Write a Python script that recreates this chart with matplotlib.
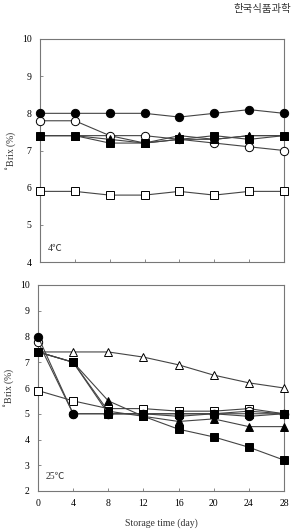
import matplotlib.pyplot as plt

days = [0, 4, 8, 12, 16, 20, 24, 28]

# 4 C panel
cold_filled_circle = [8.0, 8.0, 8.0, 8.0, 7.9, 8.0, 8.1, 8.0]
cold_open_circle = [7.8, 7.8, 7.4, 7.4, 7.3, 7.2, 7.1, 7.0]
cold_open_triangle = [7.4, 7.4, 7.4, 7.2, 7.3, 7.3, 7.4, 7.4]
cold_filled_triangle = [7.4, 7.4, 7.3, 7.2, 7.4, 7.3, 7.4, 7.4]
cold_filled_square = [7.4, 7.4, 7.2, 7.2, 7.3, 7.4, 7.3, 7.4]
cold_open_square = [5.9, 5.9, 5.8, 5.8, 5.9, 5.8, 5.9, 5.9]

# 25 C panel
warm_open_triangle = [7.4, 7.4, 7.4, 7.2, 6.9, 6.5, 6.2, 6.0]
warm_filled_circle = [8.0, 5.0, 5.0, 5.0, 4.9, 5.0, 4.9, 5.0]
warm_open_circle = [7.8, 5.0, 5.0, 5.0, 5.0, 5.0, 5.1, 5.0]
warm_open_square = [5.9, 5.5, 5.2, 5.2, 5.1, 5.1, 5.2, 5.0]
warm_filled_square_a = [7.4, 7.0, 5.0, 5.0, 5.0, 5.0, 5.0, 5.0]
warm_filled_triangle = [7.4, 7.0, 5.5, 4.9, 4.7, 4.8, 4.5, 4.5]
warm_filled_square_b = [7.4, 7.0, 5.1, 4.9, 4.4, 4.1, 3.7, 3.2]

plt.rcParams['font.family'] = ['Liberation Serif', 'Noto Sans CJK KR']
plt.rcParams['font.size'] = 7

fig = plt.figure(figsize=(2.92, 5.29), dpi=100)
ax1 = fig.add_axes([40 / 292, 1 - 262 / 529, 244 / 292, 223 / 529])
ax2 = fig.add_axes([38 / 292, 1 - 491 / 529, 246 / 292, 206 / 529])

fig.text(291 / 292, 1 - 12 / 529, '한국식품과학', fontsize=7.5, color='#333333',
         ha='right', family=['Noto Sans CJK KR'])


def draw(ax, y, marker, filled):
    ax.plot(days, y, color='#444444', lw=0.8, marker=marker, ms=6,
            mfc='black' if filled else 'white', mec='black', mew=0.7,
            clip_on=False, zorder=3)


draw(ax1, cold_open_square, 's', False)
draw(ax1, cold_open_triangle, '^', False)
draw(ax1, cold_open_circle, 'o', False)
draw(ax1, cold_filled_triangle, '^', True)
draw(ax1, cold_filled_square, 's', True)
draw(ax1, cold_filled_circle, 'o', True)

draw(ax2, warm_open_triangle, '^', False)
draw(ax2, warm_open_square, 's', False)
draw(ax2, warm_open_circle, 'o', False)
draw(ax2, warm_filled_triangle, '^', True)
draw(ax2, warm_filled_square_b, 's', True)
draw(ax2, warm_filled_square_a, 's', True)
draw(ax2, warm_filled_circle, 'o', True)

for ax in (ax1, ax2):
    ax.set_xlim(0, 28)
    ax.set_xticks(days)
    for s in ax.spines.values():
        s.set_color('#777777')
        s.set_linewidth(0.8)
    ax.tick_params(direction='in', length=2, width=0.6, color='#777777',
                   labelsize=7, pad=6)
    ax.set_ylabel('$^{\\circ}$Brix (%)', fontsize=7, color='#333333', labelpad=3)

ax1.set_ylim(4, 10)
ax1.set_yticks(range(4, 11))
ax1.tick_params(axis='x', labelbottom=False)
ax1.text(0.03, 0.05, '4℃', transform=ax1.transAxes, fontsize=7, color='#333333')

ax2.set_ylim(2, 10)
ax2.set_yticks(range(2, 11))
ax2.set_xlabel('Storage time (day)', fontsize=7, color='#333333', labelpad=7)
ax2.text(0.03, 0.06, '25℃', transform=ax2.transAxes, fontsize=7, color='#333333')

fig.savefig('out.png', dpi=100)
